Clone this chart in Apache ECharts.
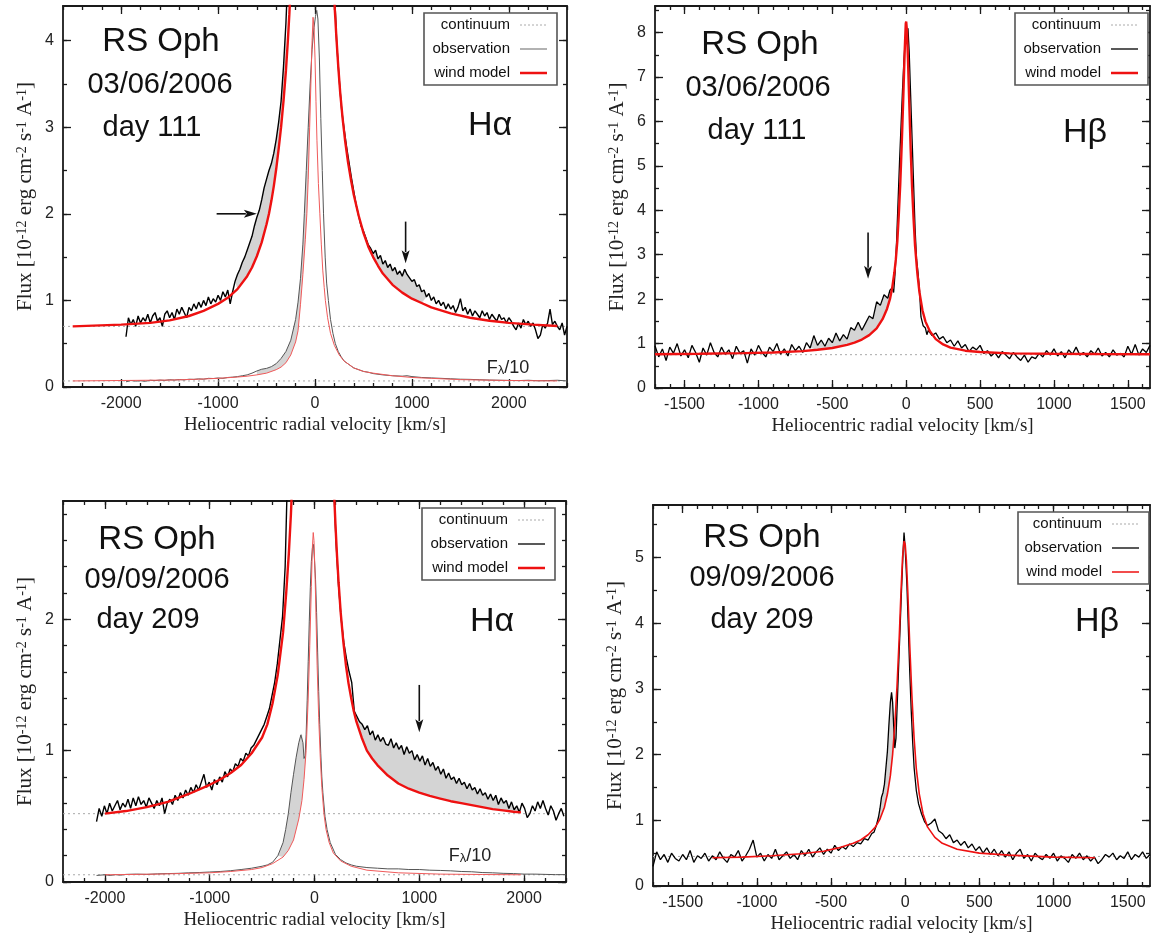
<!DOCTYPE html>
<html><head><meta charset="utf-8">
<script src="https://cdn.jsdelivr.net/npm/echarts@6/dist/echarts.min.js"></script>
<style>html,body{margin:0;padding:0;background:#fff}#c{width:1154px;height:940px}</style>
</head><body><div id="c"></div>
<script>
// ===================== DATA =====================
const STEP = 25;
// ---- Panel A: H-alpha, 03/06/2006, day 111 ----
const haA_obsL_start = -1950;
const haA_obsL = [0.58,0.80,0.72,0.78,0.70,0.82,0.74,0.80,0.76,0.84,
  0.74,0.82,0.86,0.76,0.80,0.70,0.84,0.88,0.80,0.86,
  0.78,0.90,0.84,0.92,0.86,0.80,0.92,0.88,0.96,0.90,
  0.98,0.92,1.00,0.94,1.04,0.96,1.02,0.98,1.06,1.00,
  1.10,1.04,1.12,0.96,1.10,1.22,1.30,1.36,1.44,1.50,
  1.58,1.66,1.74,1.86,1.96,2.04,2.16,2.30,2.40,2.50,
  2.58,2.70,2.86,3.06,3.30,3.70,4.20,4.90];
const haA_obsR_start = 200;
const haA_obsR = [4.60,3.95,3.55,3.20,2.98,2.78,2.60,2.42,2.26,2.10,
  1.98,1.86,1.80,1.72,1.64,1.60,1.54,1.58,1.48,1.52,
  1.42,1.46,1.38,1.42,1.34,1.38,1.30,1.34,1.28,1.36,
  1.30,1.26,1.22,1.24,1.16,1.18,1.10,1.12,1.04,1.08,
  1.00,1.04,0.96,1.00,0.94,0.98,0.90,0.96,0.90,0.94,
  0.86,0.92,1.02,0.88,0.92,0.84,0.90,0.82,0.88,0.84,
  0.80,0.88,0.82,0.86,0.78,0.84,0.80,0.76,0.84,0.78,
  0.80,0.74,0.80,0.76,0.70,0.66,0.74,0.68,0.78,0.72,
  0.76,0.70,0.74,0.66,0.56,0.60,0.72,0.68,0.74,0.90,
  0.72,0.76,0.70,0.66,0.74,0.60,0.70];
const haA_model = [[-2500,0.70],[-2000,0.72],[-1700,0.74],[-1500,0.77],[-1300,0.82],[-1150,0.88],[-1000,0.96],[-900,1.03],[-800,1.13],[-700,1.28],[-650,1.38],[-600,1.51],[-550,1.67],[-500,1.88],[-475,2.0],[-450,2.15],[-425,2.32],[-400,2.52],[-375,2.75],[-350,3.0],[-325,3.3],[-300,3.65],[-280,4.0],[-265,4.3],[-250,4.65],
  [190,4.7],[205,4.35],[220,4.05],[240,3.7],[260,3.4],[285,3.1],[310,2.85],[340,2.6],[370,2.4],[400,2.22],[450,1.98],[500,1.78],[550,1.62],[600,1.5],[650,1.4],[700,1.31],[800,1.18],[900,1.09],[1000,1.02],[1100,0.97],[1200,0.92],[1400,0.85],[1600,0.8],[1800,0.765],[2000,0.74],[2250,0.72],[2500,0.705]];
const haA_smallObs = [[-1950,0.06],[-1900,0.075],[-1850,0.068],[-1800,0.072],[-1750,0.066],[-1700,0.078],[-1650,0.074],[-1600,0.08],[-1550,0.076],[-1500,0.084],[-1450,0.08],[-1400,0.086],[-1350,0.082],[-1300,0.09],[-1250,0.088],[-1200,0.094],[-1150,0.09],[-1100,0.1],[-1050,0.098],[-1000,0.104],[-950,0.1],[-900,0.11],[-850,0.114],[-800,0.12],[-750,0.13],[-700,0.14],[-650,0.16],[-600,0.185],[-550,0.205],[-500,0.215],[-450,0.235],[-400,0.27],[-350,0.33],[-300,0.41],[-250,0.54],[-200,0.78],[-175,0.98],[-150,1.25],[-125,1.65],[-110,2.0],[-90,2.5],[-70,3.0],[-50,3.5],[-30,3.9],[-10,4.15],[5,4.28],[18,4.35],[30,4.25],[45,3.8],[60,3.1],[75,2.5],[88,2.0],[105,1.5],[120,1.2],[138,1.0],[160,0.78],[185,0.62],[210,0.5],[240,0.41],[270,0.35],[300,0.3],[350,0.26],[400,0.22],[450,0.2],[500,0.18],[550,0.17],[600,0.155],[700,0.14],[800,0.13],[900,0.125],[950,0.13],[1000,0.12],[1100,0.11],[1200,0.105],[1300,0.1],[1400,0.095],[1500,0.09],[1600,0.088],[1700,0.084],[1800,0.08],[1900,0.078],[2000,0.076],[2100,0.074],[2200,0.078],[2300,0.072],[2400,0.074],[2500,0.078],[2600,0.07]];
const haA_smallModel = [[-2500,0.07],[-2000,0.075],[-1500,0.08],[-1200,0.09],[-1000,0.1],[-800,0.115],[-700,0.125],[-600,0.14],[-500,0.16],[-400,0.2],[-350,0.23],[-300,0.28],[-250,0.37],[-200,0.52],[-175,0.65],[-150,0.95],[-125,1.3],[-100,1.7],[-84,2.0],[-70,2.4],[-55,3.0],[-40,3.6],[-30,4.0],[-20,4.27],[-10,4.15],[0,3.8],[10,3.3],[20,2.85],[35,2.35],[50,2.0],[65,1.65],[80,1.35],[95,1.15],[107,1.0],[130,0.8],[160,0.62],[200,0.48],[250,0.37],[300,0.3],[400,0.22],[500,0.18],[600,0.16],[800,0.13],[1000,0.11],[1200,0.1],[1500,0.085],[2000,0.075],[2500,0.07]];
const haA_continuum = [0.70, 0.07];

// ---- Panel B: H-beta, 03/06/2006, day 111 ----
const hbB_obsL_start = -1700;
const hbB_obsL = [0.95,0.70,0.88,0.62,0.92,0.78,1.00,0.72,0.86,0.68,
  0.96,0.80,0.58,0.90,0.74,1.02,0.80,0.70,0.92,0.76,
  0.86,0.66,0.94,0.78,0.84,0.56,0.88,0.74,0.96,0.80,
  0.70,0.92,0.82,1.00,0.76,0.88,0.72,0.98,0.84,0.94,
  0.80,1.02,0.90,1.18,0.96,1.08,0.94,1.12,1.02,1.24,
  1.06,1.20,1.10,1.36,1.30,1.48,1.30,1.46,1.62,1.56,
  1.94,1.86,2.10,2.02];
const hbB_core = [[-110,2.20],[-95,2.25],[-85,2.15],[-75,2.6],[-65,3.3],[-55,4.2],[-45,5.1],[-35,5.9],[-25,6.7],[-15,7.4],[-5,7.9],[5,8.0],[12,8.1],[20,7.6],[30,6.6],[40,5.6],[50,4.6],[60,3.6],[70,2.9],[80,2.6],[90,2.2],[100,1.6],[115,1.4],[130,1.35],[140,1.2]];
const hbB_obsR_start = 150;
const hbB_obsR = [1.30,1.18,1.24,1.10,1.16,1.02,1.08,0.94,1.06,0.90,
  0.98,0.82,0.92,0.86,0.96,0.78,0.84,0.72,0.80,0.68,
  0.82,0.74,0.66,0.80,0.70,0.62,0.74,0.58,0.70,0.66,
  0.78,0.70,0.84,0.74,0.88,0.72,0.82,0.68,0.86,0.76,
  0.92,0.74,0.80,0.70,0.84,0.76,0.90,0.72,0.80,0.70,
  0.86,0.74,0.78,0.70,0.94,0.76,0.98,0.74,0.88,0.80,0.96];
const hbB_model = [[-1700,0.76],[-1400,0.77],[-1100,0.785],[-900,0.80],[-700,0.83],[-600,0.86],[-500,0.9],[-400,0.97],[-350,1.02],[-300,1.09],[-250,1.19],[-200,1.34],[-160,1.55],[-130,1.78],[-110,2.0],[-95,2.25],[-80,2.6],[-70,2.9],[-60,3.3],[-50,3.9],[-40,4.6],[-30,5.5],[-20,6.5],[-10,7.6],[-3,8.2],[0,8.25],[5,8.05],[12,7.4],[20,6.5],[30,5.4],[40,4.5],[50,3.8],[60,3.2],[75,2.6],[90,2.15],[110,1.75],[130,1.5],[160,1.28],[200,1.1],[250,0.98],[300,0.91],[400,0.84],[500,0.81],[700,0.78],[1000,0.77],[1300,0.765],[1650,0.76]];
const hbB_continuum = [0.75];

// ---- Panel C: H-alpha, 09/09/2006, day 209 ----
const haC_obsL_start = -2080;
const haC_obsL = [0.46,0.56,0.50,0.58,0.52,0.60,0.54,0.58,0.62,0.55,
  0.60,0.57,0.63,0.56,0.64,0.58,0.65,0.59,0.62,0.57,
  0.64,0.60,0.56,0.62,0.58,0.64,0.52,0.60,0.63,0.59,
  0.66,0.62,0.68,0.64,0.70,0.66,0.72,0.68,0.74,0.70,
  0.76,0.82,0.72,0.76,0.70,0.78,0.74,0.80,0.76,0.84,
  0.80,0.86,0.84,0.90,0.88,0.94,0.92,0.98,0.96,1.02,
  1.04,1.08,1.12,1.16,1.20,1.26,1.32,1.42,1.52,1.66,
  1.84,2.02,2.40,3.20];
const haC_obsR_start = 180;
const haC_obsR = [3.10,2.60,2.25,2.00,1.82,1.70,1.60,1.52,1.30,1.26,
  1.22,1.20,1.16,1.19,1.12,1.15,1.08,1.12,1.07,1.10,
  1.05,1.04,1.09,1.02,1.06,1.01,1.04,0.97,1.03,0.98,
  1.00,0.93,0.97,0.92,0.96,0.89,0.94,0.88,0.91,0.85,
  0.88,0.82,0.86,0.79,0.83,0.78,0.80,0.75,0.79,0.74,
  0.76,0.71,0.75,0.70,0.72,0.67,0.71,0.66,0.68,0.63,
  0.67,0.62,0.66,0.59,0.64,0.60,0.62,0.56,0.61,0.55,
  0.58,0.53,0.60,0.56,0.49,0.52,0.58,0.54,0.61,0.56,
  0.62,0.56,0.51,0.58,0.54,0.47,0.52,0.56,0.50];
const haC_model = [[-2000,0.52],[-1800,0.54],[-1600,0.57],[-1400,0.61],[-1200,0.67],[-1000,0.74],[-900,0.78],[-800,0.83],[-700,0.89],[-600,0.98],[-500,1.1],[-450,1.2],[-400,1.36],[-350,1.58],[-300,1.9],[-270,2.2],[-245,2.5],[-225,2.8],[-215,3.0],
  [185,3.0],[200,2.72],[215,2.48],[230,2.28],[250,2.05],[275,1.83],[300,1.65],[325,1.51],[350,1.4],[375,1.3],[400,1.22],[450,1.1],[500,1.0],[550,0.94],[600,0.89],[700,0.81],[800,0.75],[900,0.71],[1000,0.68],[1100,0.655],[1200,0.635],[1300,0.615],[1400,0.6],[1500,0.585],[1600,0.57],[1700,0.555],[1800,0.545],[1900,0.535],[1970,0.53]];
const haC_smallObs = [[-2080,0.05],[-2000,0.055],[-1950,0.05],[-1900,0.056],[-1850,0.052],[-1800,0.058],[-1700,0.06],[-1600,0.058],[-1500,0.062],[-1400,0.064],[-1300,0.066],[-1200,0.07],[-1100,0.072],[-1000,0.076],[-900,0.08],[-800,0.086],[-700,0.095],[-600,0.105],[-500,0.12],[-450,0.13],[-400,0.15],[-350,0.2],[-300,0.3],[-275,0.4],[-250,0.52],[-225,0.68],[-200,0.82],[-175,0.95],[-150,1.06],[-130,1.12],[-120,1.13],[-110,1.06],[-100,0.94],[-90,0.96],[-80,1.12],[-70,1.38],[-60,1.68],[-50,1.98],[-40,2.24],[-30,2.44],[-20,2.54],[-10,2.57],[0,2.45],[10,2.3],[20,2.05],[30,1.75],[40,1.45],[50,1.2],[60,0.98],[70,0.8],[80,0.68],[100,0.5],[120,0.4],[150,0.3],[200,0.21],[250,0.17],[300,0.145],[350,0.13],[400,0.12],[500,0.11],[600,0.105],[700,0.1],[800,0.1],[900,0.095],[1000,0.095],[1100,0.09],[1200,0.088],[1300,0.085],[1400,0.08],[1500,0.078],[1600,0.072],[1700,0.07],[1800,0.066],[1900,0.064],[2000,0.06],[2100,0.06],[2200,0.058],[2300,0.056],[2400,0.056]];
const haC_smallModel = [[-2000,0.055],[-1500,0.06],[-1000,0.07],[-800,0.08],[-600,0.095],[-500,0.11],[-400,0.14],[-300,0.19],[-250,0.24],[-200,0.32],[-150,0.48],[-120,0.62],[-100,0.78],[-80,1.0],[-60,1.4],[-45,1.8],[-30,2.25],[-20,2.55],[-12,2.66],[-5,2.6],[5,2.35],[15,2.0],[25,1.65],[40,1.25],[55,0.95],[70,0.72],[90,0.52],[110,0.4],[140,0.3],[180,0.22],[250,0.16],[350,0.12],[500,0.09],[800,0.07],[1200,0.06],[1600,0.057],[1970,0.055]];
const haC_continuum = [0.52, 0.055];

// ---- Panel D: H-beta, 09/09/2006, day 209 ----
const hbD_obsL_start = -1700;
const hbD_obsL = [0.30,0.52,0.40,0.48,0.36,0.50,0.42,0.38,0.48,0.40,
  0.54,0.36,0.46,0.42,0.50,0.38,0.46,0.40,0.52,0.42,
  0.36,0.48,0.44,0.54,0.38,0.46,0.56,0.70,0.44,0.50,
  0.38,0.48,0.42,0.56,0.40,0.46,0.52,0.42,0.48,0.40,
  0.54,0.46,0.56,0.44,0.52,0.58,0.48,0.56,0.50,0.62,
  0.54,0.60,0.56,0.64,0.60,0.66,0.64,0.72,0.70,0.80];
const hbD_core = [[-210,0.82],[-195,0.92],[-180,1.05],[-170,1.18],[-160,1.35],[-150,1.42],[-140,1.55],[-130,1.8],[-120,2.05],[-110,2.45],[-100,2.8],[-92,2.95],[-85,2.8],[-78,2.45],[-70,2.1],[-62,2.25],[-55,2.7],[-45,3.3],[-35,3.9],[-25,4.5],[-15,5.05],[-8,5.38],[-2,5.2],[5,4.9],[12,4.55],[20,4.0],[30,3.3],[40,2.7],[50,2.2],[60,1.8],[75,1.45],[90,1.25],[110,1.1],[130,0.98],[150,0.92]];
const hbD_obsR_start = 175;
const hbD_obsR = [0.96,1.02,0.84,0.80,0.72,0.78,0.66,0.70,0.62,0.68,
  0.58,0.64,0.54,0.60,0.50,0.58,0.48,0.56,0.46,0.54,
  0.44,0.52,0.40,0.50,0.56,0.42,0.48,0.38,0.50,0.44,
  0.40,0.48,0.42,0.50,0.38,0.46,0.42,0.36,0.48,0.42,
  0.50,0.40,0.46,0.38,0.44,0.34,0.40,0.48,0.44,0.50,
  0.40,0.46,0.42,0.52,0.40,0.48,0.44,0.52,0.42,0.48];
const hbD_model = [[-1300,0.43],[-1100,0.44],[-900,0.46],[-700,0.49],[-550,0.53],[-450,0.58],[-350,0.65],[-300,0.7],[-250,0.78],[-200,0.9],[-170,1.02],[-140,1.2],[-120,1.4],[-100,1.68],[-85,2.0],[-70,2.45],[-55,3.05],[-40,3.8],[-28,4.5],[-18,5.0],[-8,5.25],[0,5.2],[8,4.95],[18,4.45],[30,3.7],[45,2.9],[60,2.25],[75,1.78],[95,1.4],[120,1.1],[150,0.9],[200,0.74],[250,0.65],[350,0.56],[500,0.5],[700,0.47],[1000,0.44],[1280,0.43]];
const hbD_continuum = [0.45];

// ---- Axis ranges and ticks ----
const xRangeHa1 = [-2600, 2600], xRangeHb = [-1700, 1650], xRangeHa2 = [-2400, 2400];
const yRangeA = [0, 4.4], yRangeB = [0, 8.6], yRangeC = [0, 2.9], yRangeD = [0, 5.8];
const xTicksHa = [-2000, -1000, 0, 1000, 2000];
const xTicksHb = [-1500, -1000, -500, 0, 500, 1000, 1500];
const yTicksA = [0, 1, 2, 3, 4], yTicksB = [0, 1, 2, 3, 4, 5, 6, 7, 8], yTicksC = [0, 1, 2], yTicksD = [0, 1, 2, 3, 4, 5];
const minorStepHa = 200, minorStepHb = 100, minorStepY = 0.5, minorStepYC = 0.2;

// ---- Arrows [x1,y1,x2,y2] (tail -> tip) ----
const arrowsA = [[-1015, 2.0, -600, 2.0], [935, 1.91, 935, 1.43]];
const arrowsB = [[-258, 3.5, -258, 2.46]];
const arrowsC = [[1000, 1.5, 1000, 1.14]];

// ---- Shaded ranges [from, to] ----
const shadeA = [[-830, -300]], shadeAR = [[560, 1150]], shadeAsmall = [[-620, -10]];
const shadeB = [[-650, -80]];
const shadeC = [[380, 1970]], shadeCsmall = [[-350, -20]];
const shadeD = [[-210, -40]];

// ---- Texts ----
const labelsA = ['RS Oph', '03/06/2006', 'day 111', 'Hα'];
const labelsB = ['RS Oph', '03/06/2006', 'day 111', 'Hβ'];
const labelsC = ['RS Oph', '09/09/2006', 'day 209', 'Hα'];
const labelsD = ['RS Oph', '09/09/2006', 'day 209', 'Hβ'];
const legendNames = ['continuum', 'observation', 'wind model'];
const xTitle = 'Heliocentric radial velocity [km/s]';

// ===================== BUILD =====================
const SANS = 'Liberation Sans, Arial, Helvetica, sans-serif';
const SERIF = 'Liberation Serif, Times New Roman, serif';
const RED = '#ee1111';
function seq(start, step, vals) { return vals.map((v, i) => [start + i * step, v]); }
function range(a, b, s) { const r = []; for (let v = a; v <= b + 1e-9; v += s) r.push(Math.round(v * 1000) / 1000); return r; }

const obsA = seq(haA_obsL_start, STEP, haA_obsL).concat(seq(haA_obsR_start, STEP, haA_obsR));
const obsB = seq(hbB_obsL_start, STEP, hbB_obsL).concat(hbB_core, seq(hbB_obsR_start, STEP, hbB_obsR));
const obsC = seq(haC_obsL_start, STEP, haC_obsL).concat(seq(haC_obsR_start, STEP, haC_obsR));
const obsD = seq(hbD_obsL_start, STEP, hbD_obsL).concat(hbD_core, seq(hbD_obsR_start, STEP, hbD_obsR));

const grids = [
  { left: 63, top: 6, width: 504, height: 381 },
  { left: 655, top: 6, width: 495, height: 382 },
  { left: 63, top: 501, width: 503, height: 381 },
  { left: 653, top: 505, width: 497, height: 381 }
];
const panelAxes = [
  { x: xRangeHa1, y: yRangeA, xMaj: xTicksHa, xMin: range(xRangeHa1[0], xRangeHa1[1], minorStepHa), yMaj: yTicksA, yMin: range(0, yRangeA[1], minorStepY) },
  { x: xRangeHb, y: yRangeB, xMaj: xTicksHb, xMin: range(xRangeHb[0], xRangeHb[1], minorStepHb), yMaj: yTicksB, yMin: range(0, yRangeB[1], minorStepY) },
  { x: xRangeHa2, y: yRangeC, xMaj: xTicksHa, xMin: range(xRangeHa2[0], xRangeHa2[1], minorStepHa), yMaj: yTicksC, yMin: range(0, yRangeC[1], minorStepYC) },
  { x: xRangeHb, y: yRangeD, xMaj: xTicksHb, xMin: range(xRangeHb[0], xRangeHb[1], minorStepHb), yMaj: yTicksD, yMin: range(0, yRangeD[1], minorStepY) }
];

const yName = '{n|Flux [10}{s|-12}{n| erg cm}{s|-2}{n| s}{s|-1}{n| A}{s|-1}{n|]}';
const yRich = {
  n: { fontFamily: SERIF, fontSize: 21, color: '#222', lineHeight: 21, verticalAlign: 'bottom' },
  s: { fontFamily: SERIF, fontSize: 14, color: '#222', lineHeight: 14, verticalAlign: 'top', padding: [0, 0, 12, 0] }
};
const AX = '#1a1a1a';
const fmt = v => String(v);
const xAxes = [], yAxes = [];
panelAxes.forEach((p, g) => {
  const base = { type: 'value', gridIndex: g, splitLine: { show: false }, axisPointer: { show: false } };
  [['bottom', true, p.xMaj, 8], ['bottom', false, p.xMin, 4], ['top', true, p.xMaj, 8], ['top', false, p.xMin, 4]].forEach(([pos, major, vals, len], k) => {
    xAxes.push(Object.assign({}, base, {
      position: pos, min: p.x[0], max: p.x[1],
      axisLine: { show: major, onZero: false, lineStyle: { color: AX, width: 1.8 } },
      axisTick: { show: true, inside: true, length: len, customValues: vals, lineStyle: { color: AX, width: 1.3 } },
      axisLabel: { show: k === 0, customValues: p.xMaj, formatter: fmt, margin: 9, fontSize: 16, fontFamily: SANS, color: '#222' },
      name: k === 0 ? xTitle : '', nameLocation: 'middle', nameGap: 29,
      nameTextStyle: { fontFamily: SERIF, fontSize: 19, color: '#222' }
    }));
  });
  [['left', true, p.yMaj, 8], ['left', false, p.yMin, 4], ['right', true, p.yMaj, 8], ['right', false, p.yMin, 4]].forEach(([pos, major, vals, len], k) => {
    yAxes.push(Object.assign({}, base, {
      position: pos, min: p.y[0], max: p.y[1],
      axisLine: { show: major, onZero: false, lineStyle: { color: AX, width: 1.8 } },
      axisTick: { show: true, inside: true, length: len, customValues: vals, lineStyle: { color: AX, width: 1.3 } },
      axisLabel: { show: k === 0, customValues: p.yMaj, formatter: fmt, margin: 9, fontSize: 16, fontFamily: SANS, color: '#222' },
      name: k === 0 ? yName : '', nameLocation: 'middle', nameGap: 25, nameRotate: 90,
      nameTextStyle: { rich: yRich }
    }));
  });
});

function line(g, data, color, width, z, extra) {
  return Object.assign({ type: 'line', xAxisIndex: 4 * g, yAxisIndex: 4 * g, data: data, showSymbol: false, symbol: 'none',
    lineStyle: { color: color, width: width }, clip: true, animation: false, silent: true, z: z }, extra || {});
}
function continuum(g, level) {
  const xr = panelAxes[g].x;
  return line(g, [[xr[0], level], [xr[1], level]], '#a8a8a8', 1, 2, { lineStyle: { color: '#a8a8a8', width: 1, type: [2, 3] } });
}
function shade(g, obs, model, ranges) {
  return { type: 'custom', xAxisIndex: 4 * g, yAxisIndex: 4 * g, clip: true, silent: true, z: 1, animation: false,
    data: [[0, 0]],
    renderItem: function (params, api) {
      const children = ranges.map(function (r) {
        const up = obs.filter(p => p[0] >= r[0] && p[0] <= r[1]);
        const lo = model.filter(p => p[0] >= r[0] && p[0] <= r[1]).reverse();
        return { type: 'polygon', shape: { points: up.concat(lo).map(p => api.coord(p)) }, style: { fill: '#d4d4d4', stroke: null } };
      });
      return { type: 'group', children: children };
    } };
}
function arrows(g, list) {
  return { type: 'custom', xAxisIndex: 4 * g, yAxisIndex: 4 * g, silent: true, animation: false, z: 6,
    data: list.map(a => [a[0], a[1], a[2], a[3]]),
    renderItem: function (params, api) {
      const p1 = api.coord([api.value(0), api.value(1)]);
      const p2 = api.coord([api.value(2), api.value(3)]);
      const dx = p2[0] - p1[0], dy = p2[1] - p1[1], L = Math.sqrt(dx * dx + dy * dy);
      const ux = dx / L, uy = dy / L, hl = 13, hw = 4;
      const bx = p2[0] - ux * hl, by = p2[1] - uy * hl;
      return { type: 'group', children: [
        { type: 'line', shape: { x1: p1[0], y1: p1[1], x2: bx + ux * 2, y2: by + uy * 2 }, style: { stroke: '#111', lineWidth: 1.6 } },
        { type: 'polygon', shape: { points: [[p2[0], p2[1]], [bx - uy * hw, by + ux * hw], [bx + ux * 3, by + uy * 3], [bx + uy * hw, by - ux * hw]] }, style: { fill: '#111' } }
      ] };
    } };
}

const series = [
  // Panel A
  shade(0, obsA, haA_model, shadeA.concat(shadeAR)),
  shade(0, haA_smallObs, haA_smallModel, shadeAsmall),
  continuum(0, haA_continuum[0]), continuum(0, haA_continuum[1]),
  line(0, haA_smallObs, '#555', 1, 3),
  line(0, haA_smallModel, '#f05a5a', 1, 4),
  line(0, obsA, '#000', 1.4, 3),
  line(0, haA_model, RED, 2.4, 4),
  arrows(0, arrowsA),
  // Panel B
  shade(1, obsB, hbB_model, shadeB),
  continuum(1, hbB_continuum[0]),
  line(1, obsB, '#000', 1.3, 3),
  line(1, hbB_model, RED, 2.4, 4),
  arrows(1, arrowsB),
  // Panel C
  shade(2, obsC, haC_model, shadeC),
  shade(2, haC_smallObs, haC_smallModel, shadeCsmall),
  continuum(2, haC_continuum[0]), continuum(2, haC_continuum[1]),
  line(2, haC_smallObs, '#555', 1, 3),
  line(2, haC_smallModel, '#f05a5a', 1, 4),
  line(2, obsC, '#000', 1.4, 3),
  line(2, haC_model, RED, 2.4, 4),
  arrows(2, arrowsC),
  // Panel D
  shade(3, obsD, hbD_model, shadeD),
  continuum(3, hbD_continuum[0]),
  line(3, obsD, '#000', 1.3, 3),
  line(3, hbD_model, RED, 1.6, 4)
];

// ---- Graphic annotations (layout) ----
const textPos = [
  [[161, 42, 33], [160, 85, 29], [152, 128, 29], [490, 126, 34]],
  [[760, 45, 33], [758, 88, 29], [757, 131, 29], [1085, 133, 34]],
  [[157, 540, 33], [157, 580, 29], [148, 620, 29], [492, 622, 34]],
  [[762, 538, 33], [762, 578, 29], [762, 620, 29], [1097, 622, 34]]
];
const allLabels = [labelsA, labelsB, labelsC, labelsD];
const graphics = [];
allLabels.forEach((labs, g) => {
  labs.forEach((t, i) => {
    const p = textPos[g][i];
    graphics.push({ type: 'text', x: p[0], y: p[1], silent: true, z: 10,
      style: { text: t, align: 'center', verticalAlign: 'middle', fontSize: p[2], fontFamily: SANS, fill: '#111' } });
  });
});
[[508, 368], [470, 856]].forEach(p => {
  graphics.push({ type: 'text', x: p[0], y: p[1], silent: true, z: 10,
    style: { text: '{a|F}{b|λ}{a|/10}', align: 'center', verticalAlign: 'middle',
      rich: { a: { fontSize: 18, fontFamily: SANS, fill: '#222', lineHeight: 18, verticalAlign: 'top' },
              b: { fontSize: 13, fontFamily: SANS, fill: '#222', lineHeight: 13, verticalAlign: 'bottom', padding: [10, 0, 0, 0] } } } });
});
const legendBoxes = [
  [424, 13, 133, 72, '#999', 1.5, 2.5],
  [1015, 13, 133, 72, '#222', 1.5, 2.5],
  [422, 508, 133, 72, '#222', 1.5, 2.5],
  [1018, 512, 131, 72, '#222', 1.5, 1.5]
];
legendBoxes.forEach(b => {
  const [l, t, w, h, oc, ow, mw] = b;
  const r = l + w;
  graphics.push({ type: 'rect', silent: true, z: 10, shape: { x: l, y: t, width: w, height: h }, style: { fill: '#fff', stroke: '#555', lineWidth: 1.6 } });
  const styles = [{ stroke: '#aaa', lineWidth: 1, lineDash: [2, 2] }, { stroke: oc, lineWidth: ow }, { stroke: RED, lineWidth: mw }];
  legendNames.forEach((n, i) => {
    const yy = t + 12 + i * 24;
    graphics.push({ type: 'text', x: r - 47, y: yy, silent: true, z: 11, style: { text: n, align: 'right', verticalAlign: 'middle', fontSize: 15, fontFamily: SANS, fill: '#111' } });
    graphics.push({ type: 'line', silent: true, z: 11, shape: { x1: r - 37, y1: yy, x2: r - 10, y2: yy }, style: styles[i] });
  });
});

const chart = echarts.init(document.getElementById('c'), null, { renderer: 'canvas' });
chart.setOption({
  animation: false,
  backgroundColor: '#fff',
  grid: grids.map(g => Object.assign({ containLabel: false, outerBoundsMode: 'none' }, g)),
  xAxis: xAxes,
  yAxis: yAxes,
  series: series,
  graphic: { elements: graphics }
});
</script></body></html>
